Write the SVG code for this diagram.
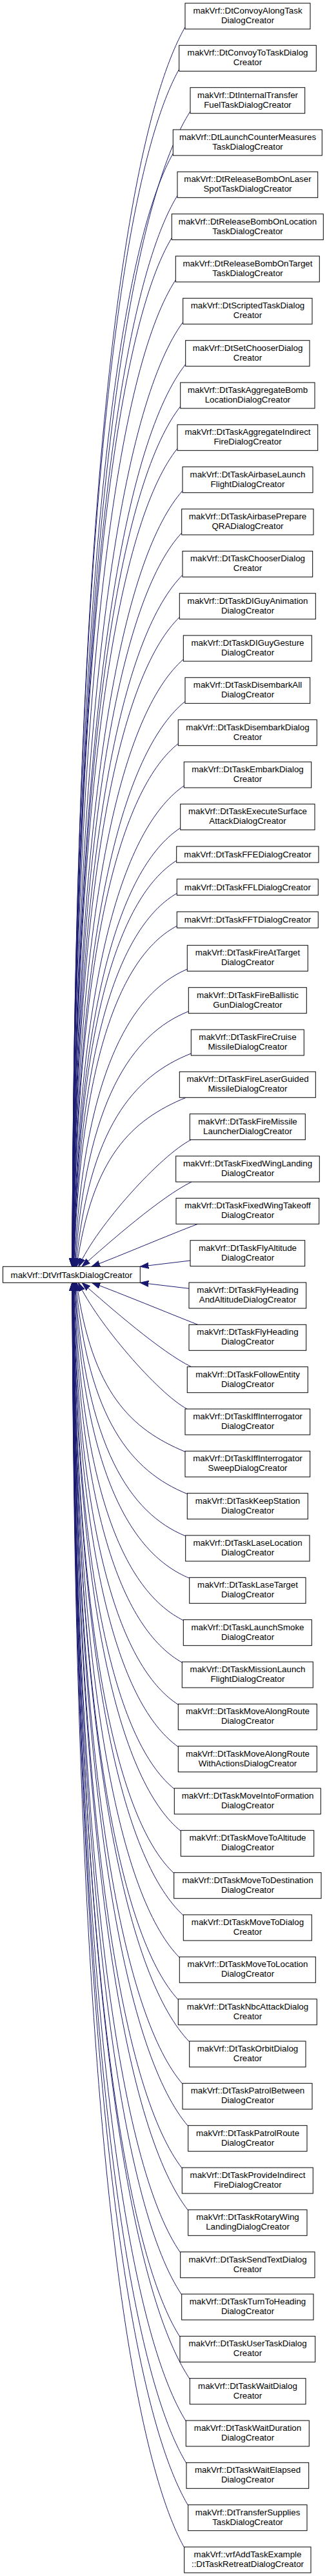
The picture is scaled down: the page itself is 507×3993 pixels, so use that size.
<svg xmlns="http://www.w3.org/2000/svg" width="507" height="3993" viewBox="0 0 507 3993">
<style>
rect{fill:#fff;stroke:#000;stroke-width:1}
text{font-family:"Liberation Sans",Arial,sans-serif;font-size:13.33px;text-anchor:middle;fill:#000}
#edges path{fill:none;stroke:#191970;stroke-width:1;marker-end:url(#arr)}
</style>
<defs>
<marker id="arr" markerUnits="userSpaceOnUse" viewBox="0 -5 13 10" refX="13" refY="0" markerWidth="13" markerHeight="10" orient="auto">
<path d="M0,-4.5 L13,0 L0,4.5 Z" fill="#191970" stroke="#191970" stroke-width="1"/>
</marker>
</defs>
<rect x="0" y="0" width="507" height="3993" style="fill:#fff;stroke:none"/>
<g id="edges">
<path d="M287,42 C199.4,195.7 115.2,714.5 111.9,1963.3"/>
<path d="M277.7,107.3 C194.8,255.8 115.2,756.9 111.9,1963.3"/>
<path d="M295,172.7 C203.6,315.9 116,799.4 112.1,1963.3"/>
<path d="M268.3,238 C190.1,376 115.3,841.9 111.9,1963.3"/>
<path d="M275,303.3 C193.5,436.1 115.6,884.3 112,1963.3"/>
<path d="M266.3,368.7 C189.2,496.3 115.6,926.8 112,1963.3"/>
<path d="M272.3,434 C192.2,556.3 116,969.3 112.1,1963.3"/>
<path d="M283.7,499.3 C198,616.4 116.8,1011.7 112.3,1963.3"/>
<path d="M287.7,564.7 C200,676.6 117.2,1054.2 112.4,1963.3"/>
<path d="M279.7,630 C196,736.7 117.2,1096.7 112.4,1963.3"/>
<path d="M275,695.3 C193.7,796.7 117.2,1139.1 112.4,1963.3"/>
<path d="M283,760.7 C197.8,856.9 118,1181.6 112.6,1963.3"/>
<path d="M281.7,826 C197.2,917 118.4,1224.1 112.7,1963.3"/>
<path d="M283,891.3 C197.9,977.1 118.8,1266.5 112.8,1963.3"/>
<path d="M278.3,956.7 C195.6,1037.2 119.2,1309 112.9,1963.3"/>
<path d="M284.3,1022 C198.7,1097.3 120,1351.5 113.1,1963.3"/>
<path d="M287,1087.3 C200.2,1157.4 120.8,1393.9 113.3,1963.3"/>
<path d="M276.3,1152.7 C194.8,1217.5 120.8,1436.4 113.3,1963.3"/>
<path d="M285.3,1218 C199.5,1277.6 122.4,1478.9 113.7,1963.3"/>
<path d="M279.7,1283.3 C196.8,1337.7 123.2,1521.3 113.9,1963.3"/>
<path d="M273.7,1334 C193.9,1384.3 123.6,1554.3 114,1963.3"/>
<path d="M274.3,1384.7 C194.3,1431 124.8,1587.2 114.3,1963.3"/>
<path d="M274.3,1435.3 C194.5,1477.5 126,1620.1 114.6,1963.3"/>
<path d="M290.3,1502.3 C202.9,1539.2 129.6,1663.6 115.5,1963.3"/>
<path d="M292.3,1567.7 C204.4,1602.7 133.2,1706.2 116.4,1963.3"/>
<path d="M296.3,1633 C207,1668 138,1748.6 117.6,1963.3"/>
<path d="M288.3,1701.3 C203.6,1736.3 143.2,1793 118.9,1963.3"/>
<path d="M296.3,1766.7 C250,1790 150,1900 121.9,1963.3"/>
<path d="M297,1832 C250,1855 170,1925 127,1963.3"/>
<path d="M306.7,1897.3 C260,1915 190,1945 142,1963.3"/>
<path d="M295,1954 L217.3,1963.3"/>
<path d="M293,1997.3 L217.3,1988.3"/>
<path d="M306.7,2053.3 C260,2035 190,2006 142.4,1988.3"/>
<path d="M296.7,2118.7 C250,2096 170,2026 127.1,1988.3"/>
<path d="M290,2184 C245,2160 150,2050 121.6,1988.3"/>
<path d="M287,2250.3 C202.9,2215.3 142.9,2158.6 118.8,1988.3"/>
<path d="M290.3,2315.7 C203.9,2280.7 137.2,2201.1 117.4,1988.3"/>
<path d="M287.7,2381 C202,2346 132.8,2243.6 116.3,1988.3"/>
<path d="M293.7,2446.3 C204.7,2409.7 130.4,2286 115.7,1988.3"/>
<path d="M284.3,2511.7 C199.6,2469.8 127.2,2328.5 114.9,1988.3"/>
<path d="M282.3,2577 C198.4,2529.9 125.2,2371 114.4,1988.3"/>
<path d="M276.3,2642.3 C195.1,2590 123.2,2413.4 113.9,1988.3"/>
<path d="M276.3,2707.7 C195,2650.1 122,2455.9 113.6,1988.3"/>
<path d="M270.3,2773 C191.8,2710.2 120.8,2498.4 113.3,1988.3"/>
<path d="M280.3,2838.3 C196.8,2770.3 120.8,2540.8 113.3,1988.3"/>
<path d="M269.7,2903.7 C191.3,2830.5 119.2,2583.3 112.9,1988.3"/>
<path d="M284.3,2969 C198.7,2890.5 119.6,2625.8 113,1988.3"/>
<path d="M278.3,3034.3 C195.6,2950.6 118.8,2668.2 112.8,1988.3"/>
<path d="M276.3,3099.7 C194.5,3010.8 118,2710.7 112.6,1988.3"/>
<path d="M293.7,3165 C203.2,3070.9 118.4,2753.2 112.7,1988.3"/>
<path d="M283,3230.3 C197.8,3130.9 117.6,2795.6 112.5,1988.3"/>
<path d="M291.7,3295.7 C202.1,3191.1 117.6,2838.1 112.5,1988.3"/>
<path d="M282.3,3361 C197.4,3251.2 117.2,2880.6 112.4,1988.3"/>
<path d="M291.7,3426.3 C202.1,3311.3 117.2,2923 112.4,1988.3"/>
<path d="M279.7,3491.7 C196,3371.4 116.4,2965.5 112.2,1988.3"/>
<path d="M281.7,3557 C197,3431.5 116.4,3008 112.2,1988.3"/>
<path d="M279,3622.3 C195.6,3491.6 116,3050.4 112.1,1988.3"/>
<path d="M294.3,3687.7 C203.2,3551.7 116,3092.9 112.1,1988.3"/>
<path d="M288.3,3753 C200.2,3611.8 116,3135.4 112.1,1988.3"/>
<path d="M289,3818.3 C200.5,3671.9 115.6,3177.8 112,1988.3"/>
<path d="M291.7,3883.7 C201.9,3732.1 115.6,3220.3 112,1988.3"/>
<path d="M285.7,3949 C198.8,3792.1 115.2,3262.8 111.9,1988.3"/>
</g>
<g id="parent"><rect x="4.5" y="1963.3" width="212.8" height="25"/><text x="110.9" y="1980.8">makVrf::DtVrfTaskDialogCreator</text></g>
<g id="n1"><rect x="287" y="5" width="194" height="40"/><text x="384" y="21">makVrf::DtConvoyAlongTask<tspan x="384" dy="15">DialogCreator</tspan></text></g>
<g id="n2"><rect x="277.7" y="70.3" width="212.6" height="40"/><text x="384" y="86.3">makVrf::DtConvoyToTaskDialog<tspan x="384" dy="15">Creator</tspan></text></g>
<g id="n3"><rect x="295" y="135.7" width="177.7" height="40"/><text x="384" y="151.7">makVrf::DtInternalTransfer<tspan x="384" dy="15">FuelTaskDialogCreator</tspan></text></g>
<g id="n4"><rect x="268.3" y="201" width="231" height="40"/><text x="384" y="217">makVrf::DtLaunchCounterMeasures<tspan x="384" dy="15">TaskDialogCreator</tspan></text></g>
<g id="n5"><rect x="275" y="266.3" width="217.7" height="40"/><text x="384" y="282.3">makVrf::DtReleaseBombOnLaser<tspan x="384" dy="15">SpotTaskDialogCreator</tspan></text></g>
<g id="n6"><rect x="266.3" y="331.7" width="235" height="40"/><text x="384" y="347.7">makVrf::DtReleaseBombOnLocation<tspan x="384" dy="15">TaskDialogCreator</tspan></text></g>
<g id="n7"><rect x="272.3" y="397" width="223" height="40"/><text x="384" y="413">makVrf::DtReleaseBombOnTarget<tspan x="384" dy="15">TaskDialogCreator</tspan></text></g>
<g id="n8"><rect x="283.7" y="462.3" width="200.3" height="40"/><text x="384" y="478.3">makVrf::DtScriptedTaskDialog<tspan x="384" dy="15">Creator</tspan></text></g>
<g id="n9"><rect x="287.7" y="527.7" width="192.3" height="40"/><text x="384" y="543.7">makVrf::DtSetChooserDialog<tspan x="384" dy="15">Creator</tspan></text></g>
<g id="n10"><rect x="279.7" y="593" width="208.3" height="40"/><text x="384" y="609">makVrf::DtTaskAggregateBomb<tspan x="384" dy="15">LocationDialogCreator</tspan></text></g>
<g id="n11"><rect x="275" y="658.3" width="217.7" height="40"/><text x="384" y="674.3">makVrf::DtTaskAggregateIndirect<tspan x="384" dy="15">FireDialogCreator</tspan></text></g>
<g id="n12"><rect x="283" y="723.7" width="202" height="40"/><text x="384" y="739.7">makVrf::DtTaskAirbaseLaunch<tspan x="384" dy="15">FlightDialogCreator</tspan></text></g>
<g id="n13"><rect x="281.7" y="789" width="204.3" height="40"/><text x="384" y="805">makVrf::DtTaskAirbasePrepare<tspan x="384" dy="15">QRADialogCreator</tspan></text></g>
<g id="n14"><rect x="283" y="854.3" width="201.7" height="40"/><text x="384" y="870.3">makVrf::DtTaskChooserDialog<tspan x="384" dy="15">Creator</tspan></text></g>
<g id="n15"><rect x="278.3" y="919.7" width="211" height="40"/><text x="384" y="935.7">makVrf::DtTaskDIGuyAnimation<tspan x="384" dy="15">DialogCreator</tspan></text></g>
<g id="n16"><rect x="284.3" y="985" width="199" height="40"/><text x="384" y="1001">makVrf::DtTaskDIGuyGesture<tspan x="384" dy="15">DialogCreator</tspan></text></g>
<g id="n17"><rect x="287" y="1050.3" width="193.7" height="40"/><text x="384" y="1066.3">makVrf::DtTaskDisembarkAll<tspan x="384" dy="15">DialogCreator</tspan></text></g>
<g id="n18"><rect x="276.3" y="1115.7" width="215" height="40"/><text x="384" y="1131.7">makVrf::DtTaskDisembarkDialog<tspan x="384" dy="15">Creator</tspan></text></g>
<g id="n19"><rect x="285.3" y="1181" width="197.4" height="40"/><text x="384" y="1197">makVrf::DtTaskEmbarkDialog<tspan x="384" dy="15">Creator</tspan></text></g>
<g id="n20"><rect x="279.7" y="1246.3" width="208.3" height="40"/><text x="384" y="1262.3">makVrf::DtTaskExecuteSurface<tspan x="384" dy="15">AttackDialogCreator</tspan></text></g>
<g id="n21"><rect x="273.7" y="1312" width="220.3" height="25"/><text x="384" y="1329">makVrf::DtTaskFFEDialogCreator</text></g>
<g id="n22"><rect x="274.3" y="1362.7" width="219" height="25"/><text x="384" y="1379.7">makVrf::DtTaskFFLDialogCreator</text></g>
<g id="n23"><rect x="274.3" y="1413.3" width="219" height="25"/><text x="384" y="1430.3">makVrf::DtTaskFFTDialogCreator</text></g>
<g id="n24"><rect x="290.3" y="1465.3" width="187" height="40"/><text x="384" y="1481.3">makVrf::DtTaskFireAtTarget<tspan x="384" dy="15">DialogCreator</tspan></text></g>
<g id="n25"><rect x="292.3" y="1530.7" width="183" height="40"/><text x="384" y="1546.7">makVrf::DtTaskFireBallistic<tspan x="384" dy="15">GunDialogCreator</tspan></text></g>
<g id="n26"><rect x="296.3" y="1596" width="175" height="40"/><text x="384" y="1612">makVrf::DtTaskFireCruise<tspan x="384" dy="15">MissileDialogCreator</tspan></text></g>
<g id="n27"><rect x="278.3" y="1661.3" width="211" height="40"/><text x="384" y="1677.3">makVrf::DtTaskFireLaserGuided<tspan x="384" dy="15">MissileDialogCreator</tspan></text></g>
<g id="n28"><rect x="294.3" y="1726.7" width="179" height="40"/><text x="384" y="1742.7">makVrf::DtTaskFireMissile<tspan x="384" dy="15">LauncherDialogCreator</tspan></text></g>
<g id="n29"><rect x="272.7" y="1792" width="222.6" height="40"/><text x="384" y="1808">makVrf::DtTaskFixedWingLanding<tspan x="384" dy="15">DialogCreator</tspan></text></g>
<g id="n30"><rect x="273" y="1857.3" width="221.7" height="40"/><text x="384" y="1873.3">makVrf::DtTaskFixedWingTakeoff<tspan x="384" dy="15">DialogCreator</tspan></text></g>
<g id="n31"><rect x="295" y="1922.7" width="177.7" height="40"/><text x="384" y="1938.7">makVrf::DtTaskFlyAltitude<tspan x="384" dy="15">DialogCreator</tspan></text></g>
<g id="n32"><rect x="293" y="1988" width="181.7" height="40"/><text x="384" y="2004">makVrf::DtTaskFlyHeading<tspan x="384" dy="15">AndAltitudeDialogCreator</tspan></text></g>
<g id="n33"><rect x="293" y="2053.3" width="181.7" height="40"/><text x="384" y="2069.3">makVrf::DtTaskFlyHeading<tspan x="384" dy="15">DialogCreator</tspan></text></g>
<g id="n34"><rect x="290.3" y="2118.7" width="187" height="40"/><text x="384" y="2134.7">makVrf::DtTaskFollowEntity<tspan x="384" dy="15">DialogCreator</tspan></text></g>
<g id="n35"><rect x="287" y="2184" width="193.7" height="40"/><text x="384" y="2200">makVrf::DtTaskIffInterrogator<tspan x="384" dy="15">DialogCreator</tspan></text></g>
<g id="n36"><rect x="287" y="2249.3" width="193.7" height="40"/><text x="384" y="2265.3">makVrf::DtTaskIffInterrogator<tspan x="384" dy="15">SweepDialogCreator</tspan></text></g>
<g id="n37"><rect x="290.3" y="2314.7" width="187" height="40"/><text x="384" y="2330.7">makVrf::DtTaskKeepStation<tspan x="384" dy="15">DialogCreator</tspan></text></g>
<g id="n38"><rect x="287.7" y="2380" width="192.3" height="40"/><text x="384" y="2396">makVrf::DtTaskLaseLocation<tspan x="384" dy="15">DialogCreator</tspan></text></g>
<g id="n39"><rect x="293.7" y="2445.3" width="180.3" height="40"/><text x="384" y="2461.3">makVrf::DtTaskLaseTarget<tspan x="384" dy="15">DialogCreator</tspan></text></g>
<g id="n40"><rect x="284.3" y="2510.7" width="199" height="40"/><text x="384" y="2526.7">makVrf::DtTaskLaunchSmoke<tspan x="384" dy="15">DialogCreator</tspan></text></g>
<g id="n41"><rect x="282.3" y="2576" width="203" height="40"/><text x="384" y="2592">makVrf::DtTaskMissionLaunch<tspan x="384" dy="15">FlightDialogCreator</tspan></text></g>
<g id="n42"><rect x="276.3" y="2641.3" width="215" height="40"/><text x="384" y="2657.3">makVrf::DtTaskMoveAlongRoute<tspan x="384" dy="15">DialogCreator</tspan></text></g>
<g id="n43"><rect x="276.3" y="2706.7" width="215" height="40"/><text x="384" y="2722.7">makVrf::DtTaskMoveAlongRoute<tspan x="384" dy="15">WithActionsDialogCreator</tspan></text></g>
<g id="n44"><rect x="270.3" y="2772" width="227" height="40"/><text x="384" y="2788">makVrf::DtTaskMoveIntoFormation<tspan x="384" dy="15">DialogCreator</tspan></text></g>
<g id="n45"><rect x="280.3" y="2837.3" width="206.4" height="40"/><text x="384" y="2853.3">makVrf::DtTaskMoveToAltitude<tspan x="384" dy="15">DialogCreator</tspan></text></g>
<g id="n46"><rect x="269.7" y="2902.7" width="228.3" height="40"/><text x="384" y="2918.7">makVrf::DtTaskMoveToDestination<tspan x="384" dy="15">DialogCreator</tspan></text></g>
<g id="n47"><rect x="284.3" y="2968" width="199" height="40"/><text x="384" y="2984">makVrf::DtTaskMoveToDialog<tspan x="384" dy="15">Creator</tspan></text></g>
<g id="n48"><rect x="278.3" y="3033.3" width="211" height="40"/><text x="384" y="3049.3">makVrf::DtTaskMoveToLocation<tspan x="384" dy="15">DialogCreator</tspan></text></g>
<g id="n49"><rect x="276.3" y="3098.7" width="215" height="40"/><text x="384" y="3114.7">makVrf::DtTaskNbcAttackDialog<tspan x="384" dy="15">Creator</tspan></text></g>
<g id="n50"><rect x="293.7" y="3164" width="180.3" height="40"/><text x="384" y="3180">makVrf::DtTaskOrbitDialog<tspan x="384" dy="15">Creator</tspan></text></g>
<g id="n51"><rect x="283" y="3229.3" width="201" height="40"/><text x="384" y="3245.3">makVrf::DtTaskPatrolBetween<tspan x="384" dy="15">DialogCreator</tspan></text></g>
<g id="n52"><rect x="291.7" y="3294.7" width="184.3" height="40"/><text x="384" y="3310.7">makVrf::DtTaskPatrolRoute<tspan x="384" dy="15">DialogCreator</tspan></text></g>
<g id="n53"><rect x="282.3" y="3360" width="203" height="40"/><text x="384" y="3376">makVrf::DtTaskProvideIndirect<tspan x="384" dy="15">FireDialogCreator</tspan></text></g>
<g id="n54"><rect x="291.7" y="3425.3" width="184.3" height="40"/><text x="384" y="3441.3">makVrf::DtTaskRotaryWing<tspan x="384" dy="15">LandingDialogCreator</tspan></text></g>
<g id="n55"><rect x="279.7" y="3490.7" width="208.3" height="40"/><text x="384" y="3506.7">makVrf::DtTaskSendTextDialog<tspan x="384" dy="15">Creator</tspan></text></g>
<g id="n56"><rect x="281.7" y="3556" width="204.3" height="40"/><text x="384" y="3572">makVrf::DtTaskTurnToHeading<tspan x="384" dy="15">DialogCreator</tspan></text></g>
<g id="n57"><rect x="279" y="3621.3" width="209.7" height="40"/><text x="384" y="3637.3">makVrf::DtTaskUserTaskDialog<tspan x="384" dy="15">Creator</tspan></text></g>
<g id="n58"><rect x="294.3" y="3686.7" width="179.7" height="40"/><text x="384" y="3702.7">makVrf::DtTaskWaitDialog<tspan x="384" dy="15">Creator</tspan></text></g>
<g id="n59"><rect x="288.3" y="3752" width="191" height="40"/><text x="384" y="3768">makVrf::DtTaskWaitDuration<tspan x="384" dy="15">DialogCreator</tspan></text></g>
<g id="n60"><rect x="289" y="3817.3" width="189.7" height="40"/><text x="384" y="3833.3">makVrf::DtTaskWaitElapsed<tspan x="384" dy="15">DialogCreator</tspan></text></g>
<g id="n61"><rect x="291.7" y="3882.7" width="184.3" height="40"/><text x="384" y="3898.7">makVrf::DtTransferSupplies<tspan x="384" dy="15">TaskDialogCreator</tspan></text></g>
<g id="n62"><rect x="285.7" y="3948" width="196.3" height="40"/><text x="384" y="3964">makVrf::vrfAddTaskExample<tspan x="384" dy="15">::DtTaskRetreatDialogCreator</tspan></text></g>
</svg>
